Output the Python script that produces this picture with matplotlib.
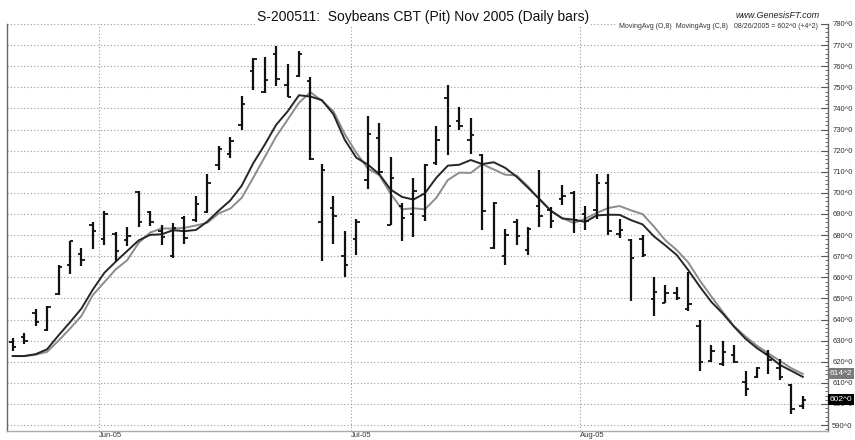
import numpy as np
import pandas as pd
import matplotlib
matplotlib.use("Agg")
import matplotlib.pyplot as plt
from matplotlib.ticker import MultipleLocator, FuncFormatter

plt.rcParams["font.family"] = ["Liberation Sans", "DejaVu Sans"]

# daily bars, 19 May 2005 .. 26 Aug 2005 (one entry per trading day)
opens = [629.5, 631.5, 643, 635, 652, 666, 671, 685, 678, 680.5,
         677.5, 700.5, 691, 682, 670, 688, 687, 691, 713, 718.5,
         732, 757.5, 748, 766, 751, 755.5, 753, 686, 693, 670,
         678, 706, 726, 685, 693.7, 690, 689, 714, 745, 734,
         725, 718, 674, 670, 686, 673, 694, 692, 697, 700,
         690, 692, 704.7, 680.5, 677.5, 678, 649.5, 648, 652.7, 645,
         637, 620.5, 619, 623, 610.5, 613, 623.5, 617, 609, 599]
highs = [631.4, 633.5, 644.8, 646.4, 665.6, 677.4, 673.7, 686, 691.6, 681.4,
         684, 700.8, 691.6, 685, 685.8, 689, 698.7, 709, 722, 726.6,
         746, 763.8, 764.3, 769.7, 761, 767, 755, 713.8, 698.7, 681.8,
         687.7, 736.2, 733, 717, 695.3, 707, 713.8, 731.5, 751.2, 740.9,
         735.4, 718.6, 695.7, 683, 687.8, 683.9, 710.7, 693.4, 703.9, 700.8,
         694, 709.1, 709.1, 687.4, 678, 680, 660, 656.2, 655.4, 662.5,
         640, 627.8, 629.9, 627.8, 615.7, 617.6, 625.5, 621.5, 609.4, 603.6]
lows = [625.1, 628.3, 636.8, 634.6, 651.5, 661.4, 665.2, 673.2, 675.5, 667.7,
        674.6, 683.9, 684.5, 675.5, 669.3, 676, 686, 690.5, 711, 716.7,
        729.6, 748.5, 747.5, 750.7, 745.2, 755, 715.7, 667.7, 676, 660.3,
        670.8, 701.9, 708.6, 685, 677.1, 679, 686.9, 713.4, 718, 729.6,
        718.6, 682.3, 673.5, 665.6, 675.5, 670.4, 683.9, 683.4, 694.1, 680.8,
        682.2, 687.4, 680, 678.7, 648.8, 669.7, 641.7, 647.7, 649.2, 644,
        615.7, 620, 617.8, 619.6, 603.9, 612.5, 614, 611.4, 595.2, 597.6]
closes = [627, 630, 639, 646, 665, 677, 668, 682, 690, 672.5,
          679.5, 686, 686, 679, 683.5, 678.5, 694.5, 704.5, 721, 724.5,
          742, 763.5, 753.5, 754, 745.5, 766, 716, 711, 689, 666,
          686, 728, 709.7, 707, 688, 701, 713, 725, 731.5, 731.5,
          727.5, 691.6, 695, 680, 679.5, 683, 689, 686.5, 698.5, 687,
          686.5, 704.7, 682, 682.5, 669, 670.5, 653, 652.5, 650, 647.5,
          620, 625, 624.7, 620, 607.3, 617, 621, 613, 597.75, 602]

# 8-day averages for the first 7 days (earlier history not shown)
ma_open_start = [622.7, 622.7, 623.3, 624.7, 630, 635.7, 641.7]
ma_close_start = [622.7, 622.7, 623.6, 625.9, 632.5, 638.7, 645.2]

month_pos = [7.5, 29.5, 49.5]
month_labels = ["Jun-05", "Jul-05", "Aug-05"]


def fmt_price(v):
    # eighths notation: 614.25 -> 614^2
    whole = int(np.floor(v + 1e-9))
    return f"{whole}^{int(round((v - whole) * 8))}"


x = np.arange(len(closes))
ma_open = pd.Series(opens).rolling(8).mean().to_numpy()
ma_close = pd.Series(closes).rolling(8).mean().to_numpy()
ma_open[:7] = ma_open_start
ma_close[:7] = ma_close_start

fig = plt.figure(figsize=(8.55, 4.4), dpi=100)
ax = fig.add_axes([7 / 855, 9 / 440, 821 / 855, 407 / 440])

ax.set_xlim(-0.5, 71.2)
ax.set_ylim(587.2, 780)

# grid
ax.set_yticks(np.arange(590, 781, 10))
ax.yaxis.set_minor_locator(MultipleLocator(2))
ax.grid(axis="y", color="#9a9a9a", linestyle=(0, (1, 2)), linewidth=0.8)
for p in month_pos:
    ax.axvline(p, color="#9a9a9a", linestyle=(0, (1, 2)), linewidth=0.8, zorder=0)

# moving averages
ax.plot(x, ma_open, color="#8c8c8c", lw=1.4, zorder=2)
ax.plot(x, ma_close, color="#262626", lw=1.4, zorder=3)

# OHLC bars
tick = 0.3
ax.vlines(x, lows, highs, color="#111111", lw=1.6, zorder=4)
ax.hlines(opens, x - tick, x, color="#111111", lw=1.3, zorder=4)
ax.hlines(closes, x, x + tick, color="#111111", lw=1.3, zorder=4)

# axes styling
ax.yaxis.tick_right()
ax.yaxis.set_major_formatter(FuncFormatter(lambda v, p: fmt_price(v)))
ax.tick_params(axis="y", which="major", direction="in", length=5, width=0.8,
               color="#555555", labelsize=5.5, labelcolor="#333333", pad=3)
ax.tick_params(axis="y", which="minor", direction="in", length=2.5, width=0.6,
               color="#555555")
ax.set_xticks(month_pos)
ax.set_xticklabels(month_labels, ha="left")
ax.tick_params(axis="x", length=0, labelsize=5.5, labelcolor="#333333", pad=1)
ax.spines["top"].set_visible(False)
ax.spines["left"].set_color("#666666")
ax.spines["bottom"].set_color("#aaaaaa")
ax.spines["right"].set_color("#666666")
for s in ("left", "bottom", "right"):
    ax.spines[s].set_linewidth(1.0)

# last-value flags on the price scale
ax.text(1.002, ma_open[-1], fmt_price(ma_open[-1]), transform=ax.get_yaxis_transform(),
        ha="left", va="center", fontsize=6, color="white", zorder=6,
        bbox=dict(boxstyle="square,pad=0.25", fc="#7a7a7a", ec="none"), clip_on=False)
ax.text(1.002, closes[-1], fmt_price(closes[-1]), transform=ax.get_yaxis_transform(),
        ha="left", va="center", fontsize=6, color="white", zorder=6,
        bbox=dict(boxstyle="square,pad=0.25", fc="black", ec="none"), clip_on=False)

# header texts
fig.text(423 / 855, 1 - 17 / 440, "S-200511:  Soybeans CBT (Pit) Nov 2005 (Daily bars)",
         ha="center", va="center", fontsize=10, color="#111111",
         bbox=dict(boxstyle="square,pad=0.15", fc="white", ec="none"))
fig.text(820 / 855, 1 - 15 / 440, "www.GenesisFT.com", ha="right", va="center",
         fontsize=6.5, style="italic", color="#222222")
chg = closes[-1] - closes[-2]
fig.text(818 / 855, 1 - 26 / 440,
         f"MovingAvg (O,8)  MovingAvg (C,8)   08/26/2005 = {fmt_price(closes[-1])} (+{fmt_price(chg)})",
         ha="right", va="center", fontsize=5, color="#333333",
         bbox=dict(boxstyle="square,pad=0.3", fc="white", ec="none"))

fig.savefig("out.png", dpi=100)
